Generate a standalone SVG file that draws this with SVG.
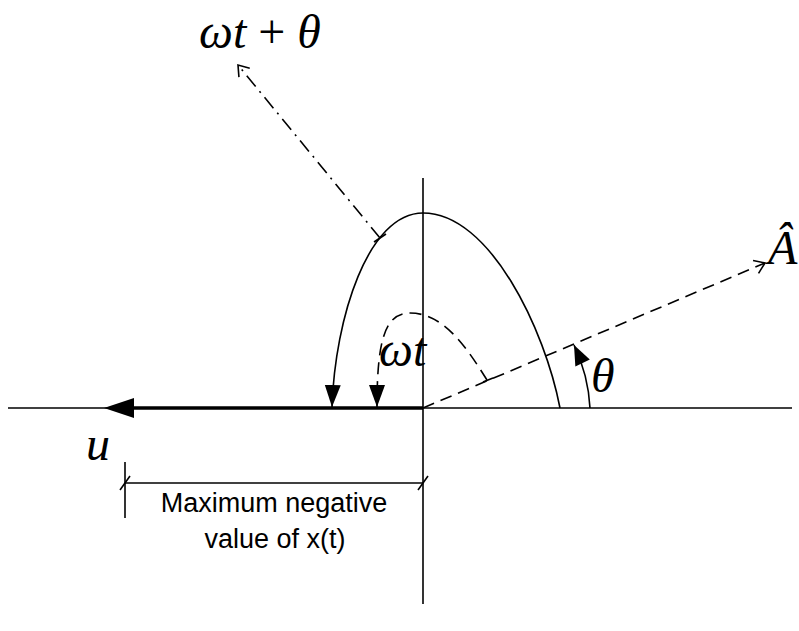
<svg xmlns="http://www.w3.org/2000/svg" width="799" height="631" viewBox="0 0 799 631">
<style>
.ln{fill:none;stroke:#000;stroke-width:1.6}
.dash{fill:none;stroke:#000;stroke-width:1.6;stroke-dasharray:12 7}
.dd{fill:none;stroke:#000;stroke-width:1.6;stroke-dasharray:14 6 2 6}
.math{font-family:"Liberation Serif","Times New Roman",serif;font-style:italic;font-size:48px;fill:#000}
.lbl{font-family:"Liberation Sans",Arial,sans-serif;font-size:27px;fill:#000;text-anchor:middle}
</style>
<defs>
<marker id="fa" viewBox="-22 -9 24 18" refX="0" refY="0" markerWidth="24" markerHeight="18" markerUnits="userSpaceOnUse" orient="auto">
<path d="M-22,-8 L0,0 L-22,8 Z" fill="#000" stroke="none"/>
</marker>
<marker id="fs" viewBox="-22 -9 24 18" refX="0" refY="0" markerWidth="24" markerHeight="18" markerUnits="userSpaceOnUse" orient="auto">
<path d="M-20,-8 L0,0 L-20,8 Z" fill="#000" stroke="none"/>
</marker>
<marker id="oa" viewBox="-12 -9 14 18" refX="0" refY="0" markerWidth="14" markerHeight="18" markerUnits="userSpaceOnUse" orient="auto">
<path d="M-10,-7 L0,0 L-10,7" fill="none" stroke="#000" stroke-width="1.6"/>
</marker>
</defs>

<g id="axes">
<line class="ln" x1="8" y1="408" x2="792" y2="408"/>
<line class="ln" x1="423" y1="178" x2="423" y2="604"/>
</g>

<g id="u-vector">
<line x1="423" y1="408" x2="130" y2="408" stroke="#000" stroke-width="3.5"/>
<polygon points="104,408 134,398 134,418" fill="#000"/>
<text class="math" x="86" y="460">u</text>
</g>

<g id="connectors">
<path id="solid-arc" class="ln" d="M560,408 C545,330 490,213 423,213 C368,213 335,318 332,407" marker-end="url(#fa)"/>
<path id="dashed-arc" class="dash" d="M487,380 C468,350 445,313 410,313 C385,313 377,340 377,407" marker-end="url(#fa)"/>
<line class="ln" x1="483" y1="382" x2="493" y2="378"/>
<path id="a-hat-line" class="dash" d="M423,408 L765,263" marker-end="url(#oa)"/>
<path id="theta-arc" class="ln" d="M590,408 A167,167 0 0 0 574,345" marker-end="url(#fs)"/>
<path id="wt-theta-line" class="dd" d="M380,238 L238,65" marker-end="url(#oa)"/>
<line class="ln" x1="374" y1="242" x2="386" y2="234"/>
</g>

<g id="labels">
<text class="math" x="199" y="48">ωt <tspan font-style="normal">+</tspan> θ</text>
<text class="math" x="379" y="366">ωt</text>
<text class="math" x="591" y="392">θ</text>
<text class="math" x="768" y="264" font-size="42">Â</text>
</g>

<g id="dimension">
<line class="ln" x1="125" y1="462" x2="125" y2="518"/>
<line class="ln" x1="125" y1="483" x2="423" y2="483"/>
<line class="ln" x1="120" y1="490" x2="130" y2="476"/>
<line class="ln" x1="418" y1="490" x2="428" y2="476"/>
<text class="lbl" x="274" y="512">Maximum negative</text>
<text class="lbl" x="275" y="548">value of x(t)</text>
</g>
</svg>
